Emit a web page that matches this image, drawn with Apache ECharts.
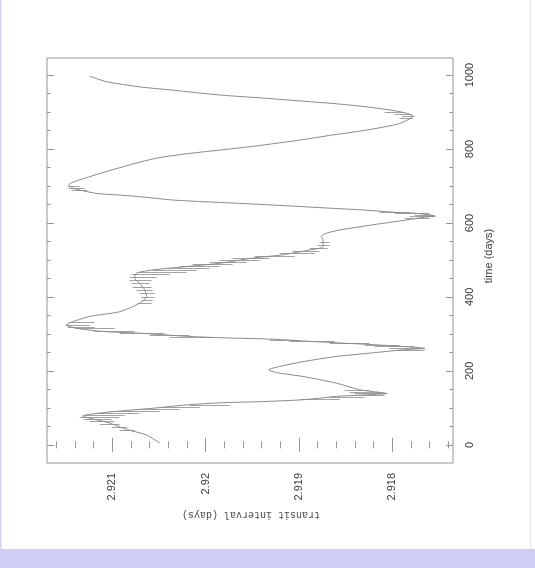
<!DOCTYPE html>
<html>
<head>
<meta charset="utf-8">
<script src="https://cdn.jsdelivr.net/npm/echarts@6/dist/echarts.min.js"></script>
<style>
html,body{margin:0;padding:0;background:#fff;}
#chart{width:535px;height:568px;}
</style>
</head>
<body>
<div id="chart"></div>
<script>
// ---- data ----
const timeDays = [5,27,42,59,68,78,86,93,99,108,114,117,122,131,135,139,149,167,185,195,203,212,225,239,248,257,261,266,270,276,281,286,289,293,302,306,314,324,347,360,383,401,419,437,451,464,473,482,491,505,514,527,536,554,563,572,581,595,608,615,619,626,628,635,641,646,653,658,662,671,676,680,694,703,725,752,775,788,802,808,824,838,851,869,889,901,914,923,930,937,946,959,968,982,997];
const transitInterval = [2.920493,2.920636,2.92085,2.921029,2.921172,2.921318,2.921136,2.92085,2.920565,2.920207,2.919818,2.91939,2.918958,2.9186,2.918318,2.918064,2.91835,2.9186,2.918958,2.919229,2.919325,2.919207,2.918958,2.9186,2.918243,2.917886,2.917654,2.917886,2.918136,2.9186,2.918958,2.919315,2.919743,2.920172,2.920708,2.921064,2.92135,2.921493,2.921243,2.920922,2.920708,2.920633,2.920654,2.920708,2.920761,2.920743,2.920565,2.920207,2.91985,2.919494,2.919172,2.918886,2.918743,2.918743,2.918761,2.918707,2.918565,2.918208,2.91785,2.917672,2.917547,2.917743,2.917922,2.918315,2.918743,2.9191,2.919636,2.920065,2.920351,2.920708,2.920957,2.921172,2.921422,2.921465,2.921243,2.920886,2.920529,2.920172,2.919668,2.919465,2.918993,2.918636,2.918278,2.917922,2.917779,2.917922,2.918278,2.918636,2.918993,2.91935,2.91985,2.920351,2.920708,2.921064,2.921243];

// short-period zig-zag (hatching) read as left/right extent at given times
const hatchTime = [40,49,57,65,70,76,81,86,92,97,103,108, 124,130,135,139,143,149, 257,262,266,270,276,281,284, 292,297,303,308,314,319,324,332, 384,392,400,411,419,427,438,446,454,462,468,473,478,484,489,495,500,505,511,518,524,532,541,549, 614,618,622,626,630, 689,695,700, 884,889,895,900];
const hatchLeft = [2.920922,2.921008,2.921136,2.921243,2.921308,2.92135,2.921297,2.92119,2.921029,2.920761,2.920493,2.920172, 2.918993,2.918672,2.918457,2.918404,2.918457,2.918511, 2.917975,2.918029,2.91819,2.918297,2.918672,2.9191,2.919315, 2.920386,2.9206,2.920922,2.92119,2.921404,2.921479,2.9215,2.921458, 2.920729,2.920686,2.920686,2.920708,2.92074,2.920783,2.920793,2.920815,2.920815,2.920793,2.920708,2.920568,2.920418,2.920279,2.92014,2.919958,2.91985,2.919711,2.919475,2.919207,2.919068,2.918886,2.9188,2.918779, 2.917868,2.917815,2.917761,2.917975,2.918136, 2.921436,2.921468,2.921479, 2.917922,2.9179,2.917975,2.918082];
const hatchRight = [2.920761,2.920836,2.920922,2.920975,2.921008,2.920922,2.920868,2.920708,2.920493,2.920279,2.920065,2.919743, 2.918565,2.918297,2.918082,2.91805,2.918136,2.918243, 2.917654,2.917654,2.917761,2.917922,2.918243,2.918618,2.918993, 2.919904,2.920172,2.92044,2.920761,2.920975,2.92119,2.921243,2.92119, 2.920579,2.920568,2.920547,2.920547,2.920568,2.920579,2.9206,2.920579,2.920525,2.920386,2.920204,2.920097,2.919958,2.91985,2.919711,2.919561,2.919422,2.919315,2.919047,2.918832,2.918779,2.918693,2.918672,2.918672, 2.9176,2.917536,2.917547,2.9176,2.917815, 2.921265,2.921297,2.92135, 2.917782,2.917761,2.917793,2.917868];

// axis ticks and labels
const xMajorTicks = [2.918, 2.919, 2.92, 2.921];
const xTickLabels = ['2.918', '2.919', '2.92', '2.921'];
const xMinorTicks = [2.9174,2.9176,2.9178,2.918,2.9182,2.9184,2.9186,2.9188,2.919,2.9192,2.9194,2.9196,2.9198,2.92,2.9202,2.9204,2.9206,2.9208,2.921,2.9212,2.9214,2.9216];
const yMajorTicks = [0, 200, 400, 600, 800, 1000];
const yTickLabels = ['0', '200', '400', '600', '800', '1000'];
const yMinorTicks = [0,50,100,150,200,250,300,350,400,450,500,550,600,650,700,750,800,850,900,950,1000];
const xRange = [2.91735, 2.9217];
const yRange = [-49, 1046];
const xTitle = 'transit interval (days)';
const yTitle = 'time (days)';

// ---- chart ----
const chart = echarts.init(document.getElementById('chart'), null, {renderer: 'canvas'});
const frameColor = '#959595';
const labelColor = '#3c3c3c';

function xAxisDef(pos, ticks, len, labels) {
  return {
    type: 'value', position: pos, min: xRange[0], max: xRange[1], inverse: true,
    axisLine: {show: false}, splitLine: {show: false},
    axisTick: {show: true, inside: true, length: len, customValues: ticks, lineStyle: {color: frameColor, width: 1}},
    axisLabel: labels ? {
      show: true, customValues: xMajorTicks, rotate: 90, margin: 10,
      fontSize: 11, fontFamily: 'Liberation Sans', color: labelColor,
      formatter: function (v) {
        for (let i = 0; i < xMajorTicks.length; i++) if (Math.abs(xMajorTicks[i] - v) < 1e-7) return xTickLabels[i];
        return '';
      }
    } : {show: false}
  };
}
function yAxisDef(pos, ticks, len, labels) {
  return {
    type: 'value', position: pos, min: yRange[0], max: yRange[1],
    axisLine: {show: false}, splitLine: {show: false},
    axisTick: {show: true, inside: true, length: len, customValues: ticks, lineStyle: {color: frameColor, width: 1}},
    axisLabel: labels ? {
      show: true, customValues: yMajorTicks, rotate: 90, margin: 11,
      fontSize: 11, fontFamily: 'Liberation Sans', color: labelColor,
      formatter: function (v) {
        const i = yMajorTicks.indexOf(Math.round(v));
        return i >= 0 ? yTickLabels[i] : '';
      }
    } : {show: false}
  };
}

const lineData = timeDays.map((t, i) => [transitInterval[i], t]);
const hatchData = hatchTime.map((t, i) => ({coords: [[hatchLeft[i], t], [hatchRight[i], t]]}));

chart.setOption({
  animation: false,
  backgroundColor: '#ffffff',
  grid: {left: 47, right: 82, top: 58, bottom: 105, show: true, borderColor: frameColor, borderWidth: 1, backgroundColor: '#ffffff'},
  xAxis: [
    xAxisDef('bottom', xMajorTicks, 7, true),
    xAxisDef('bottom', xMinorTicks, 3.5, false),
    xAxisDef('top', xMajorTicks, 7, false),
    xAxisDef('top', xMinorTicks, 3.5, false)
  ],
  yAxis: [
    yAxisDef('right', yMajorTicks, 7, true),
    yAxisDef('right', yMinorTicks, 3.5, false),
    yAxisDef('left', yMajorTicks, 7, false),
    yAxisDef('left', yMinorTicks, 3.5, false)
  ],
  graphic: [
    {type: 'rect', left: 0, top: 549, shape: {width: 535, height: 19}, style: {fill: '#cfcff6'}, silent: true},
    {type: 'rect', left: 0, top: 0, shape: {width: 1.5, height: 549}, style: {fill: '#d4d4f4'}, silent: true},
    {type: 'rect', left: 530, top: 0, shape: {width: 1, height: 549}, style: {fill: '#e2e2f6'}, silent: true},
    {type: 'text', x: 251, y: 515, rotation: Math.PI, silent: true,
      style: {text: xTitle, fontSize: 10, fontFamily: 'Liberation Mono', fill: '#4a4a4a', align: 'center', verticalAlign: 'middle'}},
    {type: 'text', x: 489, y: 256, rotation: Math.PI / 2, silent: true,
      style: {text: yTitle, fontSize: 11, fontFamily: 'Liberation Sans', fill: labelColor, align: 'center', verticalAlign: 'middle'}}
  ],
  series: [
    {
      type: 'line', xAxisIndex: 0, yAxisIndex: 0, data: lineData,
      symbol: 'none', smooth: 0.25, lineStyle: {color: '#8a8a8a', width: 1}
    },
    {
      type: 'lines', coordinateSystem: 'cartesian2d', xAxisIndex: 0, yAxisIndex: 0,
      data: hatchData, lineStyle: {color: '#a3a3a3', width: 1, opacity: 1, curveness: 0}
    }
  ]
});
</script>
</body>
</html>
